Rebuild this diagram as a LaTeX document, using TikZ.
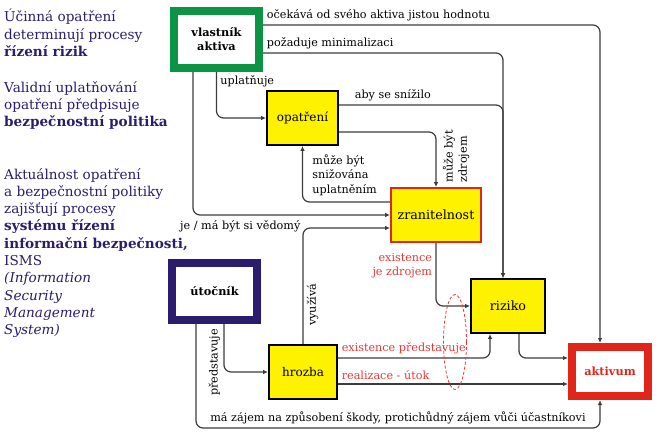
\documentclass[tikz,border=0pt]{standalone}
\usepackage{fontspec}
\setmainfont{DejaVu Serif}
\usepackage{xcolor}
\usetikzlibrary{arrows.meta}
\definecolor{navy}{HTML}{2B1C6E}
\definecolor{ownergreen}{HTML}{0B9444}
\definecolor{alarmred}{HTML}{E0251B}
\definecolor{boxyellow}{HTML}{FFF200}
\definecolor{linegray}{HTML}{3C3C3C}
\definecolor{labelred}{HTML}{E53935}

\begin{document}
\begin{tikzpicture}[x=1pt, y=-1pt,
    every node/.style={font=\fontsize{11.2}{14.3}\selectfont},
    thickbox/.style={draw, rectangle, line width=8pt, fill=white, align=center, font=\fontsize{11.3}{14}\selectfont\bfseries},
    thinbox/.style={draw, rectangle, line width=1.8pt, fill=boxyellow, font=\fontsize{12}{14}\selectfont},
    conn/.style={draw=linegray, line width=1.2pt, rounded corners=7pt, -{Latex[length=5pt,width=4.5pt]}},
    sidenote/.style={anchor=north west, align=left, inner sep=0pt, text=navy, font=\fontsize{13.6}{17.3}\selectfont},
    redlabel/.style={text=labelred}]
    \useasboundingbox (0,0) rectangle (660,442);

    % Side notes
    \node[sidenote] (riskproc) at (4,9) {Účinná opatření\\determinují procesy\\\textbf{řízení rizik}};
    \node[sidenote] (policy) at (4,81) {Validní uplatňování\\opatření předpisuje\\\textbf{bezpečnostní politika}};
    \node[sidenote] (isms) at (4,168) {Aktuálnost opatření\\a bezpečnostní politiky\\zajišťují procesy\\\textbf{systému řízení}\\\textbf{informační bezpečnosti,}\\ISMS\\\textit{(Information}\\\textit{Security}\\\textit{Management}\\\textit{System)}};

    % Parties
    \node[thickbox, draw=ownergreen, minimum width=85pt, minimum height=57pt] (owner) at (216.5,39.5) {vlastník\\aktiva};
    \node[thickbox, draw=navy, minimum width=85pt, minimum height=57pt] (attacker) at (214.5,291.5) {útočník};
    \node[thickbox, draw=alarmred, text=alarmred, minimum width=76pt, minimum height=49pt] (asset) at (610,371.5) {aktivum};

    % Yellow boxes
    \node[thinbox, minimum width=71pt, minimum height=54pt] (measure) at (302.5,118) {opatření};
    \node[thinbox, draw=alarmred, minimum width=90pt, minimum height=54pt, font=\fontsize{12.7}{14}\selectfont] (vuln) at (436,215) {zranitelnost};
    \node[thinbox, minimum width=74pt, minimum height=54pt, font=\fontsize{12.7}{14}\selectfont] (risk) at (508,306) {riziko};
    \node[thinbox, minimum width=68pt, minimum height=54pt] (threat) at (303,372) {hrozba};

    % Arrows from the owner
    \draw[conn] ([yshift=14.5pt]owner.east) -| ([xshift=-10pt]asset.north) node[at start, above right] {očekává od svého aktiva jistou hodnotu};
    \draw[conn] ([yshift=-13.5pt]owner.east) -| ([xshift=-5pt]risk.north) node[at start, above right] {požaduje minimalizaci};
    \draw[conn] (owner.south) |- (measure.west) node[at start, below right] {uplatňuje};
    \draw[conn] ([xshift=-23.5pt]owner.south) |- (vuln.west) node[pos=0.62, below, yshift=-2pt] {je / má být si vědomý};

    % Measures and vulnerability
    \draw[conn] ([yshift=13pt]measure.east) -| ([xshift=-5pt]risk.north) node[at start, above right, xshift=12pt] {aby se snížilo};
    \draw[conn] ([yshift=-14pt]measure.east) -| (vuln.north) node[pos=0.72, rotate=90, anchor=north, align=left, yshift=-3pt] {může být\\zdrojem};
    \draw[conn] ([yshift=13pt]vuln.west) -| (measure.south) node[pos=0.74, right, align=left, xshift=6pt] {může být\\snižována\\uplatněním};
    \draw[conn] (vuln.south) |- (risk.west) node[pos=0.18, left, align=right, redlabel] {existence\\je zdrojem};

    % Attacker and threat
    \draw[conn] (threat.north) |- ([yshift=-13pt]vuln.west) node[pos=0.17, rotate=90, anchor=north] {využívá};
    \draw[conn] ([xshift=9.5pt]attacker.south) |- (threat.west) node[pos=0.4, rotate=90, anchor=south] {představuje};
    \draw[conn] ([xshift=-18.5pt]attacker.south) |- ([xshift=-10pt,yshift=-28pt]asset.south) node[pos=0.75, above] {má zájem na způsobení škody, protichůdný zájem vůči účastníkovi} -- ([xshift=-10pt]asset.south);
    \draw[conn] ([yshift=14pt]threat.east) -| ([xshift=-18pt]risk.south) node[at start, above right, redlabel] {existence představuje};
    \draw[conn] ([yshift=-12pt]threat.east) -- ([yshift=-12.5pt]asset.west) node[at start, above right, redlabel] {realizace - útok};

    % Risk to asset
    \draw[conn] ([xshift=11pt]risk.south) |- ([yshift=13.5pt]asset.west);

    % Dashed ellipse
    \draw[labelred, dash pattern=on 3pt off 2pt, line width=0.8pt] (455,342) ellipse [x radius=11.5pt, y radius=47.5pt];
\end{tikzpicture}
\end{document}
